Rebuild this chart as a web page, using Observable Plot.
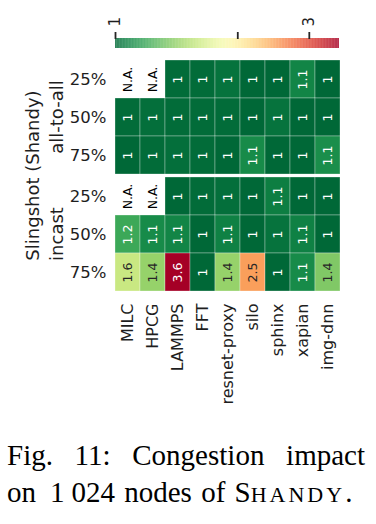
<!DOCTYPE html>
<html><head><meta charset="utf-8">
<script src="https://cdn.jsdelivr.net/npm/d3@7"></script>
<script src="https://cdn.jsdelivr.net/npm/@observablehq/plot@0.6"></script>
<style>
html,body{margin:0;padding:0;background:#fff;}
#wrap{position:relative;width:376px;height:524px;overflow:hidden;background:#fff;}
#cbar{position:absolute;left:0;top:0;}
#heat{position:absolute;left:0;top:52px;}
#cap{position:absolute;left:7px;top:437px;width:358px;font-family:"Liberation Serif","Times New Roman",serif;font-size:29px;line-height:37px;color:#000;}
#cap .l1{text-align:justify;text-align-last:justify;}
#cap .l2{word-spacing:2px;white-space:nowrap;}
#cap .sc{font-size:22px;text-transform:uppercase;letter-spacing:3px;}
#cap .sp{display:inline-block;width:14px;}
#cap .ts{display:inline-block;width:7px;}
</style>
</head><body>
<div id="wrap">
  <div id="cbar"></div>
  <div id="heat"></div>
  <div id="cap"><div class="l1">Fig. 11: Congestion impact</div><div class="l2">on<span class="sp"></span>1<span class="ts"></span>024 nodes of S<span class="sc">handy</span>.</div></div>
</div>
<script>
const apps = ["MILC","HPCG","LAMMPS","FFT","resnet-proxy","silo","sphinx","xapian","img-dnn"];
const patterns = ["all-to-all","incast"];
const loads = ["25%","50%","75%"];
// values per row (null = N.A.)
const allToAll25 = [null, null, 1.01, 1.01, 1.03, 1.00, 1.00, 1.08, 1.00];
const allToAll50 = [1.01, 1.02, 1.01, 1.01, 1.01, 1.00, 1.03, 1.00, 1.00];
const allToAll75 = [1.00, 1.01, 1.02, 1.01, 1.00, 1.10, 1.00, 1.00, 1.11];
const incast25   = [null, null, 1.00, 1.01, 1.02, 1.00, 1.06, 1.00, 1.00];
const incast50   = [1.20, 1.10, 1.08, 1.00, 1.07, 1.00, 1.03, 1.07, 1.00];
const incast75   = [1.60, 1.42, 3.56, 1.00, 1.42, 2.50, 1.00, 1.10, 1.36];
const colorTicks = [1, 2, 3];
const colorTickLabels = ["1", "", "3"];

const rows = [
  ["all-to-all","25%",allToAll25],["all-to-all","50%",allToAll50],["all-to-all","75%",allToAll75],
  ["incast","25%",incast25],["incast","50%",incast50],["incast","75%",incast75]
];
const table = [];
for (const [p, l, vals] of rows) vals.forEach((v, i) => table.push({pattern: p, load: l, app: apps[i], v}));
const valid = table.filter(d => d.v != null);

const colorOpts = {type: "log", domain: [1, 3.56], scheme: "rdylgn", reverse: true};
const cscale = Plot.scale({color: colorOpts});
function lum(c) {
  const r = d3.rgb(c);
  const f = x => { x /= 255; return x <= 0.03928 ? x / 12.92 : Math.pow((x + 0.055) / 1.055, 2.4); };
  return 0.2126 * f(r.r) + 0.7152 * f(r.g) + 0.0722 * f(r.b);
}
const fmt = v => String(+v.toFixed(1));
const textColor = d => d.v == null ? "#000" : (lum(cscale.apply(d.v)) > 0.408 ? "#262626" : "#fff");

const font = "DejaVu Sans";

// colorbar
const n = 300;
const stops = d3.range(n).map(i => ({a: Math.pow(3.56, i / n), b: Math.pow(3.56, (i + 1) / n), v: Math.pow(3.56, (i + 0.5) / n)}));
const cbar = Plot.plot({
  width: 376, height: 52,
  marginLeft: 115, marginRight: 37, marginTop: 38, marginBottom: 4,
  style: {fontFamily: font, color: "#1e1e1e", background: "white"},
  x: {type: "log", domain: [1, 3.56]},
  color: colorOpts,
  marks: [
    Plot.rect(stops, {x1: "a", x2: "b", fill: "v"}),
    Plot.axisX({anchor: "top", ticks: colorTicks, tickFormat: d => colorTickLabels[colorTicks.indexOf(d)], tickSize: 7, tickPadding: 5, tickRotate: -90, fontSize: 15, strokeWidth: 1.8, stroke: "#262626", label: null})
  ]
});
document.getElementById("cbar").appendChild(cbar);

const heat = Plot.plot({
  width: 376, height: 360,
  marginLeft: 115, marginRight: 36, marginTop: 7, marginBottom: 120,
  style: {fontFamily: font, color: "#1e1e1e", background: "white"},
  x: {domain: apps, padding: 0},
  y: {domain: loads, padding: 0},
  fy: {domain: patterns, paddingInner: 0.017, paddingOuter: 0},
  color: colorOpts,
  marks: [
    Plot.cell(valid, {x: "app", y: "load", fy: "pattern", fill: "v", stroke: "white", strokeWidth: 0.6, strokeOpacity: 0.5}),
    Plot.text(table, {x: "app", y: "load", fy: "pattern", text: d => d.v == null ? "N.A." : fmt(d.v), rotate: -90, fontSize: 12.5, fill: textColor}),
    Plot.axisX({anchor: "bottom", tickRotate: -90, tickSize: 0, tickPadding: 12, fontSize: 16, label: null}),
    Plot.axisY({anchor: "left", tickSize: 0, tickPadding: 9, fontSize: 16.5, label: null}),
    Plot.axisFy({anchor: "left", tickRotate: -90, tickSize: 0, tickPadding: 53, fontSize: 18, label: "Slingshot (Shandy)", labelAnchor: "center", labelOffset: 89})
  ]
});
document.getElementById("heat").appendChild(heat);
</script>
</body></html>
